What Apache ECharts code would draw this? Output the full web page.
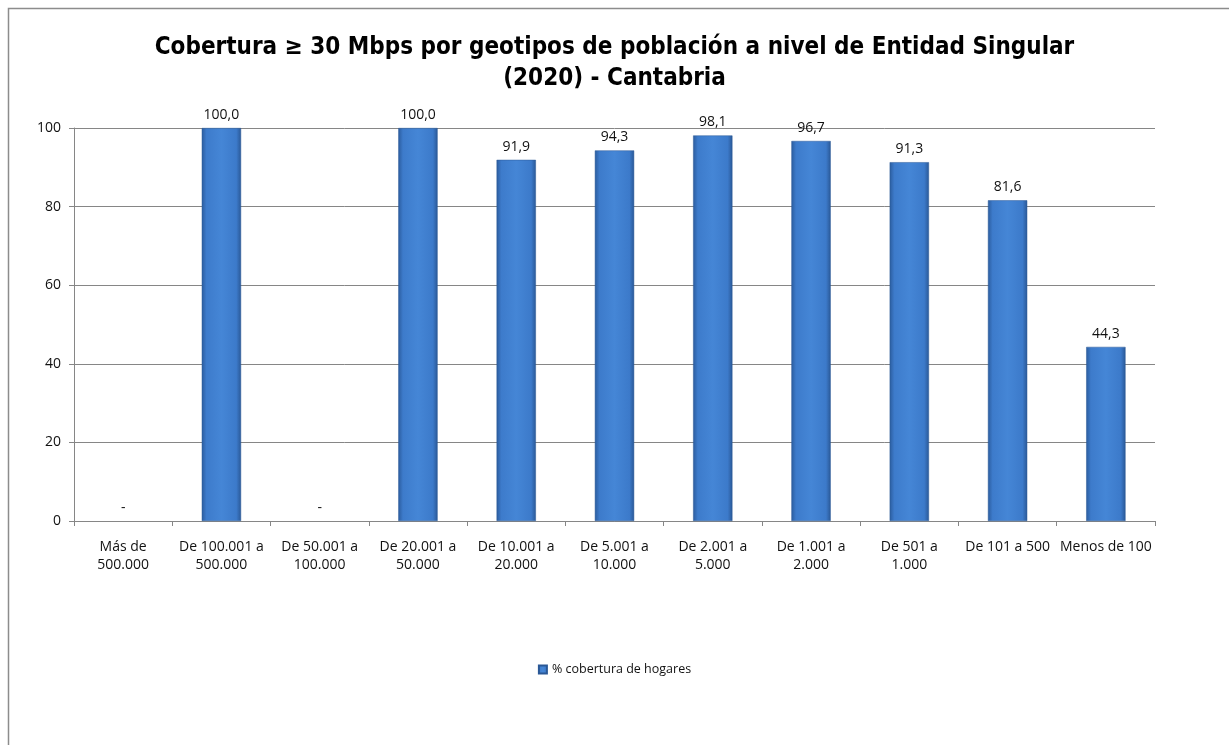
<!DOCTYPE html>
<html><head><meta charset="utf-8">
<script src="https://cdn.jsdelivr.net/npm/echarts@6/dist/echarts.min.js"></script>
<style>html,body{margin:0;padding:0;background:#fff;}#c{width:1229px;height:745px;}</style>
</head><body><div id="c"></div>
<script>
const categories = ['Más de\n500.000','De 100.001 a\n500.000','De 50.001 a\n100.000','De 20.001 a\n50.000','De 10.001 a\n20.000','De 5.001 a\n10.000','De 2.001 a\n5.000','De 1.001 a\n2.000','De 501 a\n1.000','De 101 a 500','Menos de 100'];
const values = [null, 100.0, null, 100.0, 91.9, 94.3, 98.1, 96.7, 91.3, 81.6, 44.3];
const seriesName = '% cobertura de hogares';
const yTicks = [0, 20, 40, 60, 80, 100];
const titleText = 'Cobertura ≥ 30 Mbps por geotipos de población a nivel de Entidad Singular\n(2020) - Cantabria';

const FONT = '"Liberation Sans Narrow","DejaVu Sans Condensed","Open Sans",sans-serif';
const LF = '"Open Sans",sans-serif';
const barColor = new echarts.graphic.LinearGradient(0,0,1,0,[
  {offset:0,color:'#2b5c9e'},{offset:0.12,color:'#3d7bcb'},{offset:0.5,color:'#4586d6'},
  {offset:0.88,color:'#3c7aca'},{offset:1,color:'#2a5896'}]);
const chart = echarts.init(document.getElementById('c'));
chart.setOption({
  animation:false,
  graphic:[{type:'rect',shape:{x:8.5,y:8.5,width:1300,height:900},style:{fill:'none',stroke:'#8c8c8c',lineWidth:1.5},silent:true}],
  title:{text:titleText,left:'center',top:27,textStyle:{fontFamily:FONT,fontWeight:'bold',fontSize:24,lineHeight:31,color:'#000'}},
  legend:{bottom:64,left:'center',itemWidth:8,itemHeight:8,icon:'rect',itemGap:3,textStyle:{fontFamily:LF,fontSize:12.5,color:'#111'},data:[seriesName]},
  grid:{left:74,right:74,top:128,bottom:224,containLabel:false},
  xAxis:{type:'category',data:categories,
    axisLine:{lineStyle:{color:'#868686',width:1}},
    axisTick:{show:true,length:5,alignWithLabel:false,lineStyle:{color:'#868686'}},
    axisLabel:{interval:0,fontFamily:LF,fontSize:14,lineHeight:18,color:'#111',margin:17}},
  yAxis:{type:'value',min:0,max:100,interval:20,
    axisLine:{show:true,lineStyle:{color:'#868686'}},
    axisTick:{show:true,length:5,lineStyle:{color:'#868686'}},
    splitLine:{lineStyle:{color:'#868686',width:1}},
    axisLabel:{fontFamily:LF,fontSize:14,color:'#111',margin:13,
      formatter:v=>yTicks.includes(v)?String(v):''}},
  series:[{name:seriesName,type:'bar',barWidth:'40%',
    data:values.map(v=>v===null?{value:0,itemStyle:{color:'rgba(0,0,0,0)',borderWidth:0}}:v),
    itemStyle:{color:barColor,borderColor:'#2a5896',borderWidth:0.5},
    label:{show:true,position:'top',distance:6,fontFamily:LF,fontSize:14,color:'#111',
      formatter:p=>values[p.dataIndex]===null?'-':values[p.dataIndex].toFixed(1).replace('.',',')}}]
});
</script></body></html>
